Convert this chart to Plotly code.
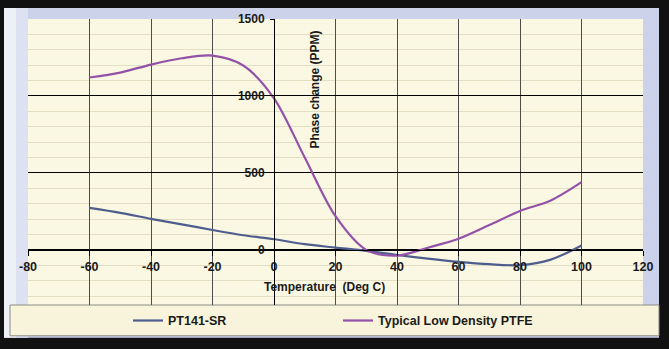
import plotly.graph_objects as go

# Data
temps = [-60, -50, -40, -30, -20, -10, 0, 10, 20, 30, 40, 50, 60, 70, 80, 90, 100]
pt141_sr = [273, 241, 202, 166, 129, 95, 69, 37, 15, -6, -33, -57, -78, -93, -99, -63, 29]
ptfe = [1120, 1152, 1204, 1245, 1262, 1198, 985, 600, 219, 0, -37, 14, 72, 161, 253, 321, 440]

x_ticks = [-80, -60, -40, -20, 0, 20, 40, 60, 80, 100, 120]
y_ticks = [0, 500, 1000, 1500]

series_names = ["PT141-SR", "Typical Low Density PTFE"]
series_colors = ["#4f5d8e", "#9352a8"]

W, H = 669, 349
ML, MR, MT, MB = 28, 26, 17, 44
PW, PH = W - ML - MR, H - MT - MB


def px(x):
    return (x - ML) / PW


def py(y):
    return (H - MB - y) / PH


FONT = "Liberation Sans, Arial, sans-serif"

fig = go.Figure()
fig.add_trace(go.Scatter(x=temps, y=pt141_sr, mode="lines", name=series_names[0],
                         line=dict(color=series_colors[0], width=2.2, shape="spline", smoothing=0.9)))
fig.add_trace(go.Scatter(x=temps, y=ptfe, mode="lines", name=series_names[1],
                         line=dict(color=series_colors[1], width=2.2, shape="spline", smoothing=0.9)))

shapes = [
    # lavender chart background
    dict(type="rect", xref="paper", yref="paper", x0=px(4), x1=px(659), y0=py(338), y1=py(6),
         fillcolor="#ccd2ea", line_width=0, layer="below"),
    dict(type="rect", xref="paper", yref="paper", x0=px(4), x1=px(16), y0=py(338), y1=py(6),
         fillcolor="#eef0f8", line_width=0, layer="below"),
    dict(type="rect", xref="paper", yref="paper", x0=px(16), x1=px(28), y0=py(338), y1=py(6),
         fillcolor="#dde1f1", line_width=0, layer="below"),
    # cream plot area
    dict(type="rect", xref="paper", yref="paper", x0=0, x1=1, y0=0, y1=1,
         fillcolor="#faf8e2", line_width=0, layer="below"),
    # legend box
    dict(type="rect", xref="paper", yref="paper", x0=px(10), x1=px(659), y0=py(336), y1=py(305),
         fillcolor="#f7f4db", line=dict(color="#8c8c84", width=1), layer="below"),
]

fig.update_layout(
    width=W, height=H, autosize=False,
    margin=dict(l=ML, r=MR, t=MT, b=MB, pad=0),
    paper_bgcolor="#111111",
    plot_bgcolor="rgba(0,0,0,0)",
    shapes=shapes,
    font=dict(family=FONT, color="#1a1a1a", size=12),
    showlegend=True,
    legend=dict(orientation="h", x=px(128), xanchor="left", y=py(321), yanchor="middle",
                bgcolor="rgba(0,0,0,0)", borderwidth=0, entrywidth=165, entrywidthmode="pixels",
                font=dict(family=FONT, size=12.5, weight="bold", color="#1a1a1a")),
    xaxis=dict(range=[-80, 120], tickvals=x_ticks, ticktext=[str(v) for v in x_ticks],
               anchor="free", position=358 / 1858, showline=True, linecolor="#000000", linewidth=1,
               ticks="outside", ticklen=5, tickcolor="#000000",
               showgrid=True, gridcolor="#4d4d4d", gridwidth=1, zeroline=False,
               tickfont=dict(family=FONT, size=12.5, weight="bold", color="#1a1a1a")),
    yaxis=dict(range=[-358, 1500], tickvals=y_ticks, ticktext=[str(v) for v in y_ticks],
               anchor="free", position=0.4, showline=True, linecolor="#000000", linewidth=1,
               ticks="outside", ticklen=4, tickcolor="#000000", ticklabelstandoff=3,
               showgrid=True, gridcolor="#000000", gridwidth=1, zeroline=False,
               minor=dict(dtick=100, tick0=0, showgrid=True, gridcolor="#e2dec4", gridwidth=1),
               tickfont=dict(family=FONT, size=12, weight="bold", color="#1a1a1a")),
    annotations=[
        dict(text="Phase change (PPM)", xref="paper", yref="paper", x=px(315), y=py(88),
             textangle=-90, showarrow=False, xanchor="center", yanchor="middle",
             font=dict(family=FONT, size=12, weight="bold", color="#1a1a1a")),
        dict(text="Temperature\u00a0\u00a0(Deg\u00a0C)", xref="paper", yref="paper", x=px(324), y=py(287),
             showarrow=False, xanchor="center", yanchor="middle",
             font=dict(family=FONT, size=12, weight="bold", color="#1a1a1a")),
    ],
)

fig.write_html("out.html")
